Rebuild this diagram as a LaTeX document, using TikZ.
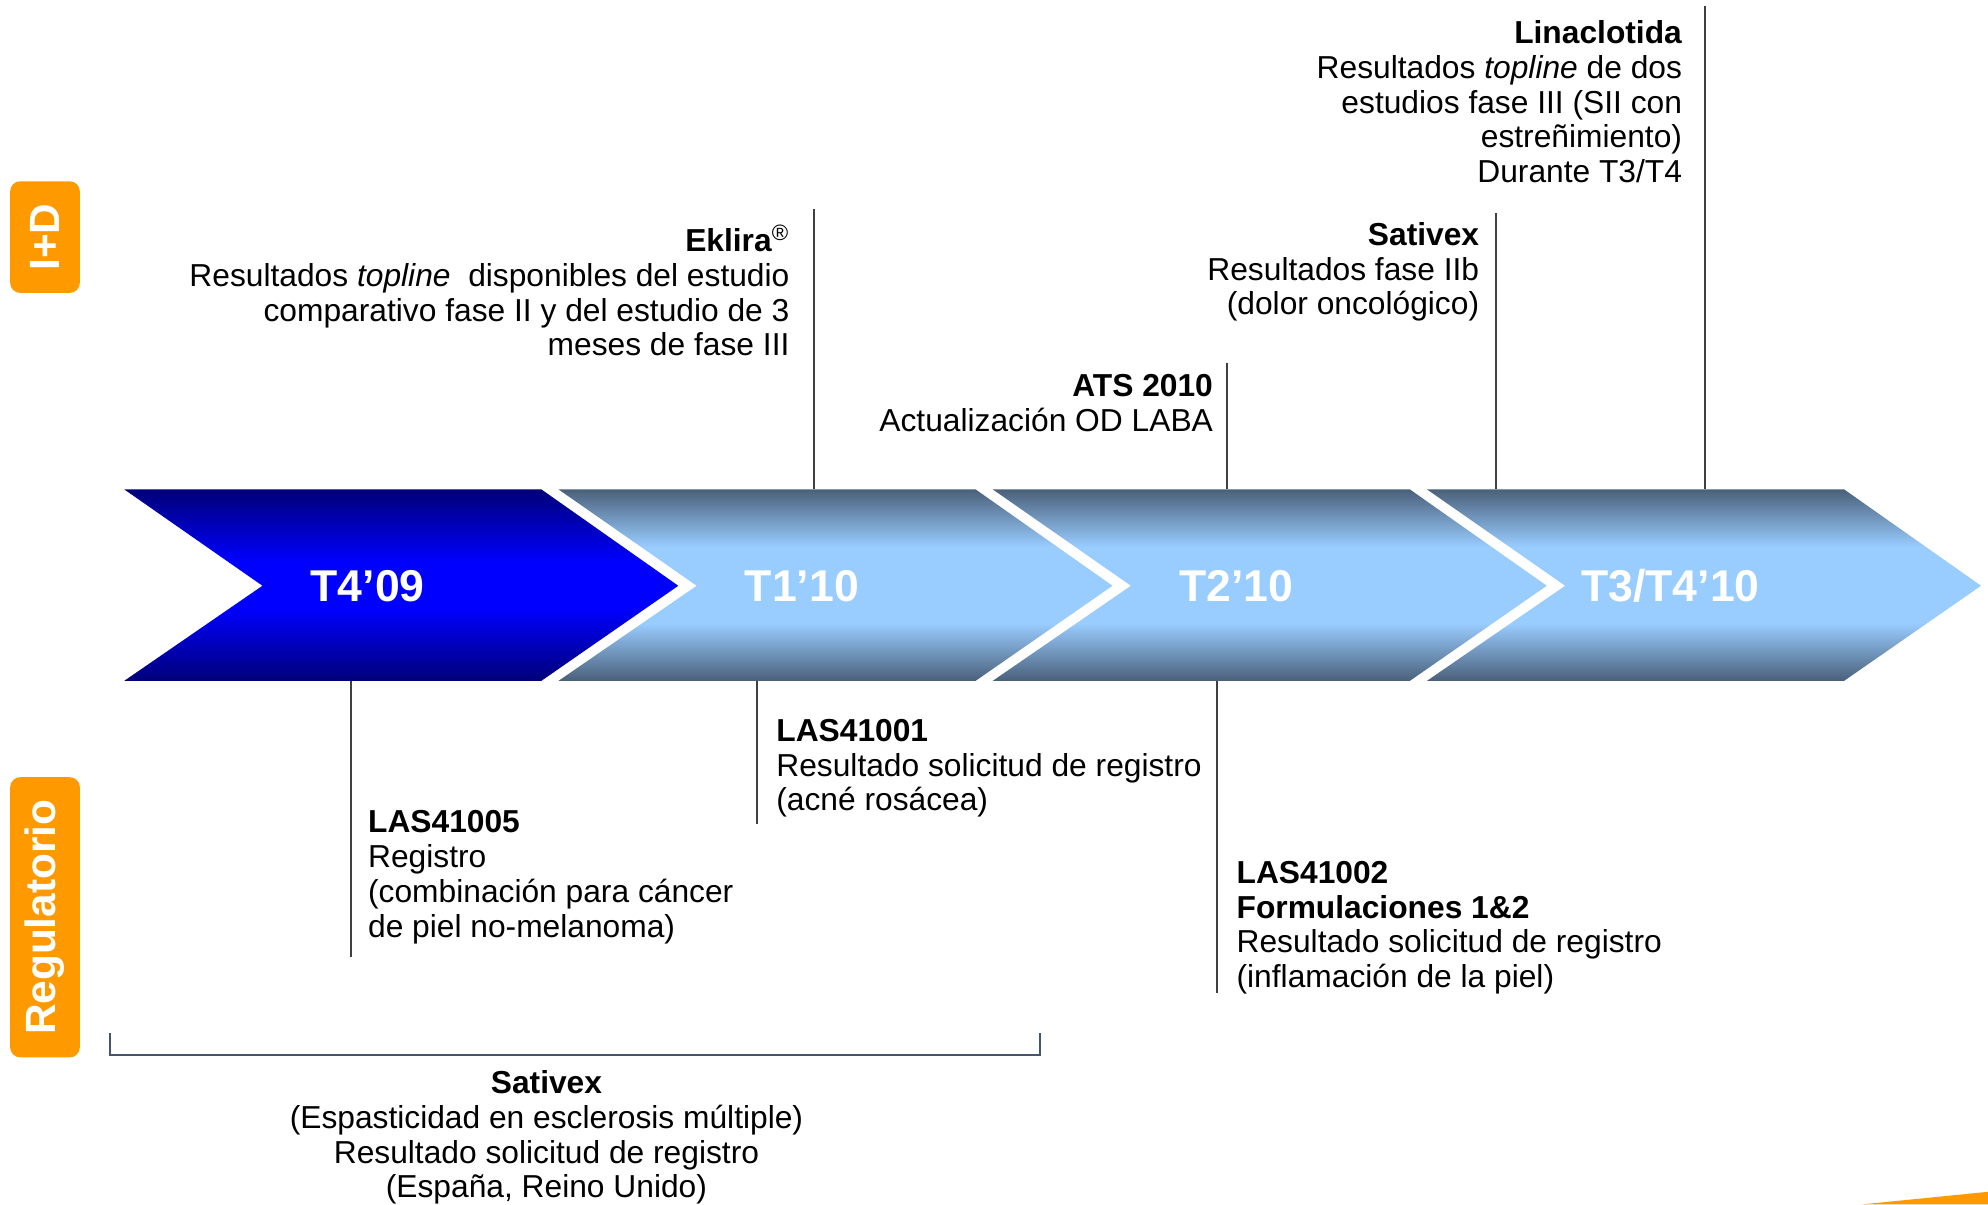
\documentclass[tikz,border=0pt]{standalone}
\usepackage{fontspec}
\setmainfont{Liberation Sans}
\usetikzlibrary{positioning}
\definecolor{tabOrange}{RGB}{255,153,0}
\definecolor{navyDark}{RGB}{0,0,120}
\definecolor{navyBright}{RGB}{0,0,255}
\definecolor{slateDark}{RGB}{74,96,122}
\definecolor{skyLight}{RGB}{153,204,255}
\definecolor{tickGray}{RGB}{64,64,64}
\definecolor{braceBlue}{RGB}{70,85,110}
\pgfdeclareverticalshading{navybar}{100bp}{color(0bp)=(navyDark); color(25bp)=(navyDark); color(44bp)=(navyBright); color(56bp)=(navyBright); color(75bp)=(navyDark); color(100bp)=(navyDark)}
\pgfdeclareverticalshading{slatebar}{100bp}{color(0bp)=(slateDark); color(25bp)=(slateDark); color(40bp)=(skyLight); color(60bp)=(skyLight); color(75bp)=(slateDark); color(100bp)=(slateDark)}

\begin{document}
\begin{tikzpicture}[
            x=0.02cm, y=-0.02cm,
            tab/.style={fill=tabOrange, rounded corners=4.5pt, rotate=90, text=white,
                       font=\fontsize{19}{22}\selectfont\bfseries, inner sep=0pt},
            quarter/.style={text=white, font=\fontsize{20}{24}\selectfont\bfseries},
            info/.style={font=\fontsize{14.25}{15.6}\selectfont, inner sep=0pt},
            infoR/.style={info, align=right, anchor=north east},
            infoL/.style={info, align=left, anchor=north west},
            marker/.style={draw=tickGray, line width=0.8pt}
        ]
            \useasboundingbox (0,0) rectangle (1568,950);

            % Side tabs
            \node[tab, minimum width=1.76cm, minimum height=1.1cm] (rd) at (35.5,187) {I+D};
            \node[tab, minimum width=4.42cm, minimum height=1.1cm] (reg) at (35.5,723.5) {Regulatorio};

            % Quarter chevrons
            \foreach \i/\shd/\txt in {0/navybar/{T4’09}, 1/slatebar/{T1’10},
                                      2/slatebar/{T2’10}, 3/slatebar/{T3/T4’10}} {
                \pgfmathsetmacro{\xo}{98+342.5*\i}
                \shade[shading=\shd] (\xo,386) -- ++(329,0) -- ++(108,76) -- ++(-108,75)
                    -- ++(-329,0) -- ++(109,-75) -- cycle;
                \node[quarter] (q\i) at (\xo+192,462) {\txt};
            }

            % I+D milestones
            \node[infoR] (eklira) at (623,180) {\textbf{Eklira}\smash{\textsuperscript{®}}\\
                Resultados \textit{topline}\ \ disponibles del estudio\\
                comparativo fase II y del estudio de 3\\meses de fase III};
            \node[infoR] (ats) at (957,295) {\textbf{ATS 2010}\\Actualización OD LABA};
            \node[infoR] (sativexA) at (1167,175) {\textbf{Sativex}\\Resultados fase IIb\\(dolor oncológico)};
            \node[infoR] (linaclotida) at (1327,16) {\textbf{Linaclotida}\\
                Resultados \textit{topline} de dos\\estudios fase III (SII con\\
                estreñimiento)\\Durante T3/T4};

            % Regulatory milestones
            \node[infoL] (las1) at (612,567) {\textbf{LAS41001}\\Resultado solicitud de registro\\(acné rosácea)};
            \node[infoL] (las5) at (290,639) {\textbf{LAS41005}\\Registro\\
                (combinación para cáncer\\de piel no-melanoma)};
            \node[infoL] (las2) at (975,679) {\textbf{LAS41002}\\\textbf{Formulaciones 1\&2}\\
                Resultado solicitud de registro\\(inflamación de la piel)};
            \node[info, align=center, anchor=north] (sativexB) at (431,844) {\textbf{Sativex}\\
                (Espasticidad en esclerosis múltiple)\\Resultado solicitud de registro\\
                (España, Reino Unido)};

            % Marker lines
            \coordinate (eklira-a) at (642,165);  \coordinate (eklira-b) at (642,386);
            \coordinate (ats-a) at (968,286);     \coordinate (ats-b) at (968,386);
            \coordinate (sativexA-a) at (1180,168); \coordinate (sativexA-b) at (1180,386);
            \coordinate (lina-a) at (1345,5);     \coordinate (lina-b) at (1345,386);
            \coordinate (las5-a) at (277,537);    \coordinate (las5-b) at (277,755);
            \coordinate (las1-a) at (597,537);    \coordinate (las1-b) at (597,650);
            \coordinate (las2-a) at (960,537);    \coordinate (las2-b) at (960,783);
            \draw[marker] (eklira-a) -- (eklira-b);
            \draw[marker] (ats-a) -- (ats-b);
            \draw[marker] (sativexA-a) -- (sativexA-b);
            \draw[marker] (lina-a) -- (lina-b);
            \draw[marker] (las5-a) -- (las5-b);
            \draw[marker] (las1-a) -- (las1-b);
            \draw[marker] (las2-a) -- (las2-b);

            % Sativex span
            \coordinate (span-l) at (87,815);
            \coordinate (span-r) at (820,815);
            \draw[draw=braceBlue, line width=0.8pt] (span-l) -- ++(0,17) -| (span-r);

            % Corner accent
            \fill[tabOrange] (1468,950) -- (1568,940) -- (1568,950) -- cycle;
        \end{tikzpicture}
\end{document}
